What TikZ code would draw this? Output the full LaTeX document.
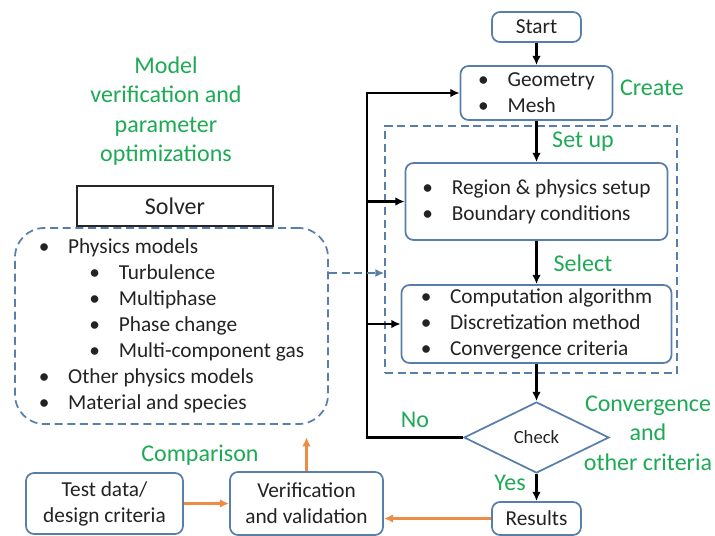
\documentclass[tikz,border=0pt]{standalone}
\usepackage{fontspec}
\setmainfont{Carlito}
\usetikzlibrary{shapes.geometric,arrows.meta,calc}
\definecolor{boxblue}{RGB}{88,126,170}
\definecolor{grn}{RGB}{30,170,85}
\definecolor{org}{RGB}{237,140,70}
\definecolor{txt}{RGB}{35,35,35}
\newcommand\mybul{\makebox[22pt][l]{\textbullet}}
\begin{document}
\begin{tikzpicture}[x=0.75pt,y=-0.75pt,
  every node/.style={font=\fontsize{16}{19.5}\selectfont, inner sep=0pt, text=txt},
  fbox/.style={draw=boxblue, line width=1.3pt, rounded corners=6pt, fill=white, align=center},
  lbox/.style={fbox, align=left},
  gtext/.style={text=grn, font=\fontsize{18}{22}\selectfont, align=center},
  arr/.style={draw=black, line width=1.8pt, -{Latex[length=7pt,width=6.5pt]}},
  oarr/.style={draw=org, line width=2pt, -{Latex[length=7pt,width=6.5pt]}},
  bdash/.style={draw=boxblue, line width=1.3pt, dash pattern=on 6pt off 3.5pt},
]
\useasboundingbox (0,0) rectangle (715,536);
\fill[white] (0,0) rectangle (715,536);

% green labels
\node[gtext] (title) at (166,111) {Model\\verification and\\parameter\\optimizations};
\node[gtext] (create) at (652,88) {Create};
\node[gtext] (setup) at (583,142) {Set up};
\node[gtext] (select) at (583,263) {Select};
\node[gtext] (convtxt) at (648,433) {Convergence\\and\\other criteria};
\node[gtext] (no) at (415,420) {No};
\node[gtext] (yes) at (510,483) {Yes};
\node[gtext] (comparison) at (200,455) {Comparison};

% set-up group
\node[bdash, minimum width=219pt, minimum height=185.25pt] (grp) at (531,249.5) {};

% flow column
\node[fbox, minimum width=66.75pt, minimum height=22.5pt] (start) at (536.5,27) {Start};
\node[lbox, minimum width=114pt, minimum height=40.5pt] (geo) at (536.5,93) {\mybul Geometry\\\mybul Mesh};
\node[lbox, minimum width=196.5pt, minimum height=57.75pt] (region) at (536.5,201.5) {\mybul Region \& physics setup\\\mybul Boundary conditions};
\node[lbox, minimum width=202.5pt, minimum height=58.5pt] (comp) at (536.5,324) {\mybul Computation algorithm\\\mybul Discretization method\\\mybul Convergence criteria};
\node[diamond, aspect=2, draw=boxblue, line width=1.3pt, fill=white, minimum width=108.75pt, minimum height=53.25pt, font=\fontsize{14}{16}\selectfont] (check) at (536.5,437.5) {Check};
\node[fbox, minimum width=66.75pt, minimum height=24.75pt] (results) at (536.5,518.5) {Results};

% left side
\node[bdash, rounded corners=22pt, minimum width=234.75pt, minimum height=147pt, align=left] (models) at (171.5,326) {%
\mybul Physics models\\
\hspace{38pt}\mybul Turbulence\\
\hspace{38pt}\mybul Multiphase\\
\hspace{38pt}\mybul Phase change\\
\hspace{38pt}\mybul Multi-component gas\\
\mybul Other physics models\\
\mybul Material and species};
\node[draw=black!85, line width=0.9pt, fill=white, minimum width=147pt, minimum height=30pt, font=\fontsize{18}{22}\selectfont] (solver) at (175,206) {Solver};

\node[fbox, minimum width=117.75pt, minimum height=45.75pt] (test) at (104.5,503.5) {Test data/\\design criteria};
\node[fbox, minimum width=114.75pt, minimum height=47.25pt] (ver) at (306.5,503.5) {Verification\\and validation};

% black arrows
\draw[arr] (start.south) -- (geo.north);
\draw[arr] (geo.south) -- (region.north);
\draw[arr] (region.south) -- (comp.north);
\draw[arr] (comp.south) -- (check.north);
\draw[arr] (check.south) -- (results.north);

% feedback
\coordinate (fb) at ($(check.west)+(-96,0)$);
\draw[arr] (check.west) -- (fb) |- (geo.west);
\draw[arr] (fb |- region.west) -- (region.west);
\draw[arr] (fb |- comp.west) -- (comp.west);

% dashed model arrow
\coordinate (dstart) at ($(models.east)+(0,-53)$);
\draw[bdash, line width=1.6pt, -{Latex[length=6.5pt,width=6pt]}] (dstart) -- (dstart -| grp.west);

% orange arrows
\draw[oarr] (results.west) -- (results.west -| ver.east);
\draw[oarr] (test.east) -- (ver.west);
\coordinate (vtop) at ($(ver.north)+(0,-34)$);
\draw[oarr] (ver.north) -- (vtop);
\end{tikzpicture}
\end{document}
